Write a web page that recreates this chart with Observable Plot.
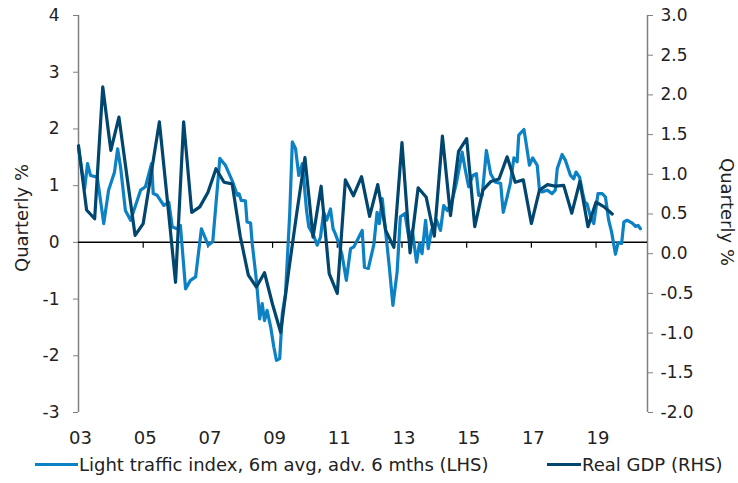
<!DOCTYPE html>
<html>
<head>
<meta charset="utf-8">
<script src="https://cdn.jsdelivr.net/npm/d3@7"></script>
<script src="https://cdn.jsdelivr.net/npm/@observablehq/plot@0.6"></script>
<style>
  html, body { margin: 0; padding: 0; background: #fff; }
  body { width: 738px; height: 483px; overflow: hidden; font-family: "DejaVu Sans", Verdana, sans-serif; }
  #legend { position: relative; height: 31px; font-size: 18px; color: #222; }
  #legend .item { position: absolute; top: 2px; display: flex; align-items: center; white-space: nowrap; }
  #legend .sw { display: inline-block; height: 3px; margin-right: 1px; }
</style>
</head>
<body>
<div id="chart"></div>
<div id="legend"></div>
<script>
// ---- Data ----
const seriesNames = ["Light traffic index, 6m avg, adv. 6 mths (LHS)", "Real GDP (RHS)"];
const seriesColors = ["#0c82c4", "#00466e"];

// Real GDP, quarterly % (RHS), 2003Q1 .. 2019Q3
const gdpStartYear = 2003;
const gdpValues = [
  1.36, 0.55, 0.44, 2.10,
  1.30, 1.72, 0.97, 0.23,
  0.38, 1.02, 1.66, 0.66,
  -0.36, 1.66, 0.52, 0.59,
  0.77, 1.07, 0.90, 0.88,
  0.22, -0.27, -0.42, -0.24,
  -0.64, -0.99, -0.21, 0.52,
  1.21, 0.21, 0.85, -0.25,
  -0.50, 0.93, 0.73, 0.97,
  0.47, 0.87, 0.29, 0.08,
  1.40, 0.01, 0.83, 0.71,
  0.22, 1.48, 0.48, 1.29,
  1.45, 0.34, 0.80, 0.91,
  0.94, 1.22, 0.90, 0.93,
  0.38, 0.80, 0.87, 0.85,
  0.86, 0.51, 0.91, 0.34,
  0.65, 0.59, 0.50
];

// Light traffic index, 6m avg, advanced 6 months, quarterly % (LHS)
const lightYears = [
  2003.00, 2003.19, 2003.28, 2003.37, 2003.58, 2003.78, 2003.93, 2004.11, 2004.21, 2004.30,
  2004.45, 2004.61, 2004.92, 2005.07, 2005.26, 2005.31, 2005.43, 2005.64, 2005.79, 2005.90,
  2006.05, 2006.15, 2006.31, 2006.46, 2006.62, 2006.80, 2007.01, 2007.15, 2007.37, 2007.54,
  2007.75, 2007.91, 2007.96, 2008.03, 2008.16, 2008.21, 2008.32, 2008.37, 2008.50, 2008.60,
  2008.68, 2008.75, 2008.83, 2008.94, 2009.04, 2009.12, 2009.22, 2009.30, 2009.40, 2009.53,
  2009.61, 2009.71, 2009.81, 2009.92, 2010.05, 2010.12, 2010.27, 2010.38, 2010.48, 2010.58,
  2010.67, 2010.79, 2010.87, 2010.94, 2011.05, 2011.15, 2011.28, 2011.41, 2011.51, 2011.63,
  2011.77, 2011.84, 2011.96, 2012.13, 2012.23, 2012.30, 2012.39, 2012.49, 2012.61, 2012.72,
  2012.85, 2012.95, 2013.09, 2013.21, 2013.32, 2013.45, 2013.54, 2013.62, 2013.73, 2013.81,
  2013.91, 2014.07, 2014.19, 2014.29, 2014.40, 2014.55, 2014.68, 2014.86, 2014.96, 2015.06,
  2015.19, 2015.30, 2015.37, 2015.48, 2015.61, 2015.74, 2015.89, 2016.05, 2016.13, 2016.25,
  2016.35, 2016.46, 2016.56, 2016.61, 2016.77, 2016.84, 2016.94, 2017.04, 2017.18, 2017.25,
  2017.33, 2017.49, 2017.64, 2017.74, 2017.80, 2017.95, 2018.05, 2018.21, 2018.31, 2018.38,
  2018.49, 2018.59, 2018.65, 2018.72, 2018.83, 2018.93, 2019.06, 2019.19, 2019.29, 2019.39,
  2019.48, 2019.60, 2019.68, 2019.79, 2019.86, 2019.96, 2020.12, 2020.22, 2020.30, 2020.37
];
const lightValues = [
  1.66, 0.95, 1.39, 1.18, 1.15, 0.33, 0.92, 1.23, 1.65, 1.33,
  0.56, 0.39, 0.92, 0.98, 1.39, 0.86, 0.83, 0.65, 0.71, 0.27,
  0.24, 0.30, -0.82, -0.67, -0.61, 0.24, -0.05, 0.01, 1.48, 1.36,
  1.09, 0.83, 0.86, 0.74, 0.73, 0.36, 0.34, -0.02, -0.67, -1.35,
  -1.08, -1.38, -1.20, -1.49, -1.85, -2.08, -2.05, -1.26, -0.90, 0.51,
  1.77, 1.65, 1.18, 1.39, 0.56, 0.27, 0.12, -0.05, 0.09, 0.53,
  0.39, 0.59, 0.24, 0.15, -0.02, -0.23, -0.67, -0.11, -0.08, 0.05,
  0.21, -0.44, -0.46, -0.04, 0.53, 0.33, 0.77, 0.21, -0.44, -1.11,
  -0.52, 0.45, 0.51, 0.09, 0.21, -0.35, -0.02, -0.20, 0.39, -0.11,
  0.21, 0.39, 0.21, 0.65, 0.56, 0.74, 1.04, 1.59, 1.27, 0.98,
  1.18, 1.21, 0.83, 0.83, 1.62, 1.21, 1.06, 1.04, 0.53, 0.80,
  1.04, 1.49, 1.42, 1.89, 1.99, 1.74, 1.36, 1.49, 1.36, 0.92,
  0.89, 0.92, 0.86, 0.92, 1.30, 1.55, 1.45, 1.18, 1.12, 1.24,
  1.15, 0.86, 0.71, 0.68, 0.45, 0.33, 0.86, 0.86, 0.80, 0.39,
  0.18, -0.21, -0.01, -0.02, 0.36, 0.39, 0.34, 0.28, 0.30, 0.24
];

// Axes / ticks
const xDomain = [2003, 2020.59];
const xTickYears = [2003, 2005, 2007, 2009, 2011, 2013, 2015, 2017, 2019];
const leftTicks = [-3, -2, -1, 0, 1, 2, 3, 4];
const rightTicks = [-2, -1.5, -1, -0.5, 0, 0.5, 1, 1.5, 2, 2.5, 3];
const axisTitle = "Quarterly %";

// RHS [-2, 3] maps onto LHS [-3, 4]
const toLeft = r => (r + 2) * 7 / 5 - 3;
const toRight = l => (l + 3) * 5 / 7 - 2;

const light = lightYears.map((x, i) => ({x, y: lightValues[i]}));
const gdp = gdpValues.map((v, i) => ({x: gdpStartYear + i / 4, y: toLeft(v)}));

const fontFamily = "'DejaVu Sans', Verdana, sans-serif";

const chart = Plot.plot({
  width: 738,
  height: 452,
  marginLeft: 78,
  marginRight: 91,
  marginTop: 15,
  marginBottom: 40,
  style: {fontFamily, fontSize: "17px", color: "#222", background: "#fff"},
  x: {domain: xDomain},
  y: {domain: [-3, 4]},
  marks: [
    Plot.ruleX([xDomain[0], xDomain[1]], {stroke: "#808080", strokeWidth: 1.5}),
    Plot.axisY(leftTicks, {anchor: "left", tickSize: 5, tickPadding: 14, stroke: "#808080", label: null, tickFormat: d => String(d)}),
    Plot.axisY(rightTicks.map(toLeft), {anchor: "right", tickSize: 5, tickPadding: 8, stroke: "#808080", label: null,
      tickFormat: d => (Math.round(toRight(d) * 10) / 10).toFixed(1)}),
    Plot.axisX(xTickYears, {anchor: "bottom", tickSize: 0, tickPadding: 19, label: null, dx: 2, fontSize: 18,
      tickFormat: d => String(d).slice(2)}),
    Plot.ruleY([0], {stroke: "#000", strokeWidth: 1.5}),
    Plot.ruleX(xTickYears.slice(1), {y1: 0, y2: 0, insetBottom: -6, stroke: "#000", strokeWidth: 1.2}),
    Plot.line(light, {x: "x", y: "y", stroke: seriesColors[0], strokeWidth: 3.2, strokeLinejoin: "round"}),
    Plot.line(gdp, {x: "x", y: "y", stroke: seriesColors[1], strokeWidth: 3.2, strokeLinejoin: "round"}),
    Plot.text([axisTitle], {frameAnchor: "left", textAnchor: "middle", dx: -56, dy: 4, rotate: -90, fontSize: 18, fill: "#222"}),
    Plot.text([axisTitle], {frameAnchor: "right", textAnchor: "middle", dx: 79, dy: -2, rotate: 90, fontSize: 18, fill: "#222"})
  ]
});
document.getElementById("chart").appendChild(chart);

// Legend
const legend = document.getElementById("legend");
const legendLeft = [35, 547];
const swatchWidth = [43, 34];
seriesNames.forEach((name, i) => {
  const item = document.createElement("div");
  item.className = "item";
  item.style.left = legendLeft[i] + "px";
  const sw = document.createElement("span");
  sw.className = "sw";
  sw.style.width = swatchWidth[i] + "px";
  sw.style.background = seriesColors[i];
  const t = document.createElement("span");
  t.textContent = name;
  item.appendChild(sw);
  item.appendChild(t);
  legend.appendChild(item);
});
</script>
</body>
</html>
